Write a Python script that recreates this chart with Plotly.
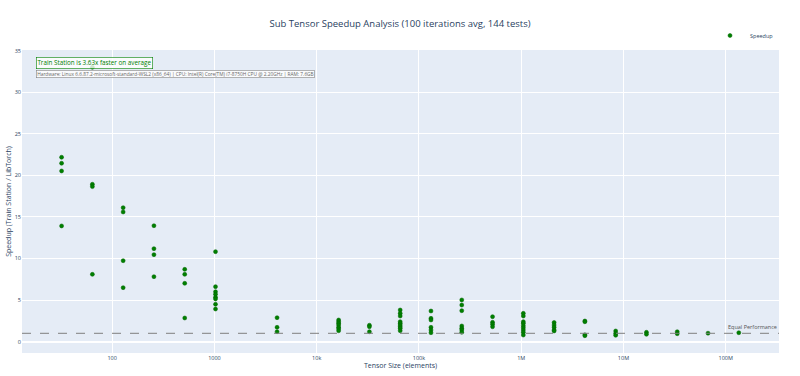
import plotly.graph_objects as go

# Tensor sizes (elements) tested
sizes = [32, 64, 128, 256, 512, 1024, 4096, 16384, 32768, 65536, 131072,
         262144, 524288, 1048576, 2097152, 4194304, 8388608, 16777216,
         33554432, 67108864, 134217728]

# Speedup readings per tensor size (Train Station / LibTorch)
speedups = [
    [22.18, 21.46, 20.53, 13.92],
    [33.0, 18.93, 18.65, 8.1],
    [16.12, 15.6, 9.74, 6.5],
    [13.95, 11.19, 10.47, 7.82],
    [8.7, 8.1, 7.02, 2.85],
    [10.83, 6.62, 6.01, 5.7, 5.34, 5.14, 4.5, 3.93],
    [2.89, 1.73, 1.2],
    [2.61, 2.41, 2.21, 2.0, 1.75, 1.55, 1.32],
    [1.98, 1.8, 1.2],
    [3.81, 3.41, 3.09, 2.41, 2.21, 2.0, 1.8, 1.61, 1.32],
    [3.69, 2.81, 2.61, 1.73, 1.41, 1.08],
    [5.02, 4.41, 3.73, 1.89, 1.61, 1.41, 1.13],
    [3.01, 2.33, 2.09, 1.8],
    [3.41, 3.09, 2.41, 2.21, 1.92, 1.68, 1.41, 1.13, 0.8],
    [2.31, 2.0, 1.73, 1.41, 1.29],
    [2.49, 2.4, 0.82, 0.72],
    [1.29, 1.0, 0.77],
    [1.13, 0.89],
    [1.2, 0.96],
    [1.02],
    [1.08],
]

title_text = "Sub Tensor Speedup Analysis (100 iterations avg, 144 tests)"
avg_text = "Train Station is 3.63x faster on average"
hw_text = ("Hardware: Linux 6.6.87.2-microsoft-standard-WSL2 (x86_64) | CPU: Intel(R) "
           "Core(TM) i7-8750H CPU @ 2.20GHz | RAM: 7.6GB")

xs, ys = [], []
for s, vals in zip(sizes, speedups):
    for v in vals:
        xs.append(s)
        ys.append(v)

fig = go.Figure()
fig.add_trace(go.Scatter(
    x=xs, y=ys, mode="markers", name="Speedup",
    marker=dict(color="green", size=4, line=dict(color="darkgreen", width=0.5)),
))

fig.add_hline(y=1, line=dict(color="gray", dash="dash", width=1.2), opacity=0.8,
              annotation_text="Equal Performance", annotation_position="top right",
              annotation_font=dict(size=5.5, color="#555"))

fig.add_annotation(text=avg_text, xref="paper", yref="paper", x=0.019, y=0.978,
                   xanchor="left", yanchor="top", showarrow=False,
                   font=dict(size=6.3, color="green"),
                   bgcolor="rgba(255,255,255,0.8)", bordercolor="green", borderwidth=0.6,
                   borderpad=0.8)
fig.add_annotation(text=hw_text, xref="paper", yref="paper", x=0.019, y=0.935,
                   xanchor="left", yanchor="top", showarrow=False,
                   font=dict(size=4.8, color="#666"),
                   bgcolor="rgba(255,255,255,0.8)", bordercolor="gray", borderwidth=0.6,
                   borderpad=0.6)

fig.update_layout(
    width=800, height=376,
    template="plotly",
    font=dict(size=5.5),
    title=dict(text=title_text, x=0.5, xanchor="center", y=0.945, font=dict(size=9.5)),
    margin=dict(l=22, r=21, t=50, b=23, autoexpand=False),
    showlegend=True,
    legend=dict(orientation="h", x=1, xanchor="right", y=1.0, yanchor="bottom",
                font=dict(size=5.5)),
    xaxis=dict(type="log", range=[1.118, 8.521], automargin=False,
               title=dict(text="Tensor Size (elements)", standoff=2),
               tickfont=dict(size=5.5)),
    yaxis=dict(range=[-1.36, 35.08], automargin=False,
               title=dict(text="Speedup (Train Station / LibTorch)", standoff=2),
               tickfont=dict(size=5.5)),
)

fig.write_html("out.html")
